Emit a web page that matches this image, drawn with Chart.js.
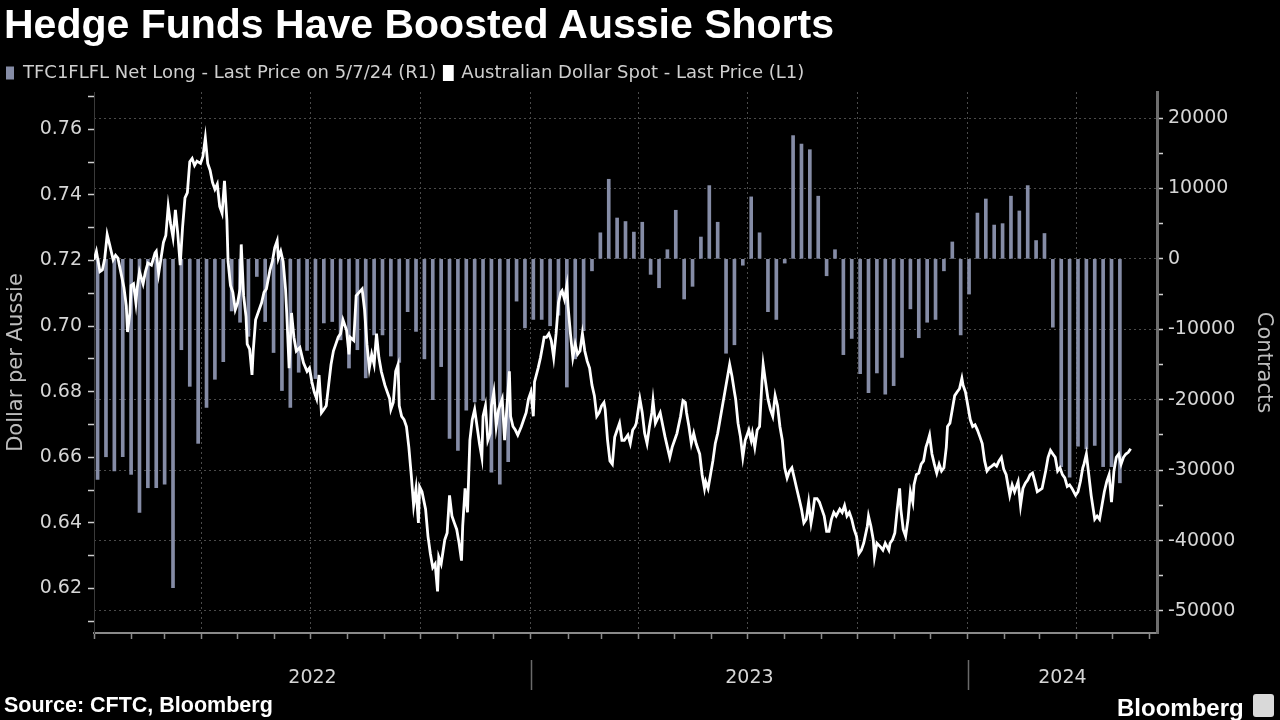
<!DOCTYPE html>
<html lang="en">
<head>
<meta charset="utf-8">
<title>Hedge Funds Have Boosted Aussie Shorts</title>
<script src="https://cdn.jsdelivr.net/npm/chart.js@4.4.1/dist/chart.umd.min.js"></script>
<style>
  html, body { margin: 0; padding: 0; background: #000; }
  .quadro { position: relative; width: 1280px; height: 720px; background: #000; overflow: hidden; }
  #grafico { position: absolute; left: 0; top: 0; }
  .titulo { position: absolute; left: 4px; top: 4px; margin: 0; font: bold 41px/41px "Liberation Sans", Arial, sans-serif; color: #fff; white-space: nowrap; }
  .fonte { position: absolute; left: 4px; top: 695px; font: bold 21.5px/21px "Liberation Sans", Arial, sans-serif; color: #fff; }
  .marca { position: absolute; left: 1117px; top: 696px; font: bold 24px/24px "Liberation Sans", Arial, sans-serif; color: #fff; }
  .marca-icone { position: absolute; left: 1253px; top: 694px; width: 21px; height: 23px; border-radius: 3px; background: #d9d9d9; }
</style>
</head>
<body>
<div class="quadro">
  <canvas id="grafico" width="1280" height="720"></canvas>
  <h1 class="titulo">Hedge Funds Have Boosted Aussie Shorts</h1>
  <div class="fonte">Source: CFTC, Bloomberg</div>
  <div class="marca">Bloomberg</div>
  <div class="marca-icone"></div>
</div>
<script>
(function () {
  "use strict";

  // Posição líquida (contratos), um relatório CFTC por semana, 4/1/2022 a 7/5/2024
  const posicaoLiquida = [
    -31300, -28100, -30100, -28100, -30600, -36000, -32500, -32500, -32000, -46700,
    -12900, -18100, -26200, -21100, -17100, -14600, -7400, -9000, -11000, -2500,
    -8900, -13300, -18700, -21100, -16100, -13000, -17000, -9100, -8900, -11500,
    -15500, -12900, -16900, -10800, -10800, -13800, -14700, -7500, -10300, -14200,
    -20000, -15300, -25500, -27200, -21500, -20300, -20100, -30300, -32000, -28800,
    -6000, -9800, -8600, -8600, -9500, -8000, -18200, -14200, -10200, -1700,
    3700, 11300, 5800, 5300, 3800, 5200, -2200, -4100, 1300, 6900,
    -5700, -3900, 3100, 10400, 5200, -13400, -12200, -900, 8800, 3700,
    -7500, -8600, -600, 17500, 16300, 15500, 8900, -2400, 1300, -13600,
    -11300, -16300, -19000, -16200, -19200, -18000, -14000, -7100, -11200, -9000,
    -8600, -1700, 2400, -10800, -5000, 6500, 8500, 4800, 5000, 8900,
    6800, 10400, 2600, 3600, -9700, -29500, -31000, -26600, -27000, -26500,
    -29500, -29500, -31800
  ];

  // Dólar australiano spot: [dias desde 1/1/2022, preço]
  const spot2022 = [
    [0, .7202], [2, .7228], [5, .7166], [7, .7171], [9, .7207], [11, .7279], [13, .7249], [16, .7202],
    [18, .7216], [20, .7207], [22, .7171], [25, .7118], [27, .7061], [28, .6982], [30, .7040], [31, .7124],
    [33, .7129], [35, .7071], [36, .7113], [38, .7166], [41, .7129], [43, .7166], [45, .7192], [48, .7186],
    [51, .7223], [52, .7228], [54, .7160], [56, .7207], [58, .7255], [60, .7276], [62, .7365], [64, .7312],
    [66, .7270], [68, .7354], [70, .7281], [72, .7186], [74, .7302], [76, .7391], [78, .7407], [80, .7501],
    [82, .7511], [84, .7490], [86, .7503], [89, .7496], [91, .7517], [93, .7574], [95, .7496], [97, .7475],
    [99, .7438], [101, .7417], [103, .7433], [105, .7365], [107, .7344], [109, .7443], [111, .7323], [112, .7197],
    [114, .7124], [116, .7103], [118, .7050], [120, .7071], [122, .7113], [123, .7249], [125, .7092], [127, .7029],
    [128, .6945], [130, .6930], [132, .6851], [133, .6924], [135, .7019], [137, .7040], [140, .7071], [142, .7103],
    [144, .7113], [147, .7171], [149, .7197], [151, .7239], [153, .7260], [154, .7207], [156, .7228], [158, .7197],
    [160, .7113], [161, .7040], [163, .6872], [165, .7040], [167, .6966], [169, .6924], [172, .6935], [174, .6904],
    [175, .6888], [178, .6862], [180, .6872], [182, .6830], [184, .6799], [186, .6778], [188, .6851], [190, .6736],
    [192, .6746], [194, .6757], [196, .6820], [198, .6883], [200, .6924], [202, .6945], [204, .6966], [206, .6977],
    [208, .7019], [211, .6987], [213, .6914], [214, .6966], [217, .6956], [219, .7092], [222, .7105], [224, .7113],
    [226, .7050], [228, .6945], [230, .6872], [232, .6914], [234, .6883], [236, .6977], [238, .6904], [240, .6862],
    [243, .6820], [245, .6799], [247, .6778], [248, .6746], [250, .6767], [252, .6862], [254, .6883], [255, .6757],
    [257, .6725], [259, .6715], [261, .6694], [263, .6631], [265, .6547], [267, .6453], [269, .6505], [271, .6400],
    [272, .6510], [274, .6495], [277, .6442], [279, .6359], [281, .6306], [283, .6264], [285, .6275], [287, .6191],
    [288, .6296], [290, .6275], [293, .6348], [295, .6369], [297, .6484], [299, .6421], [301, .6400], [303, .6380],
    [305, .6338], [307, .6285], [308, .6390], [310, .6505], [312, .6432], [314, .6652], [316, .6715], [318, .6746],
    [320, .6694], [322, .6642], [324, .6600], [325, .6725], [327, .6757], [329, .6652], [331, .6673], [332, .6757],
    [334, .6799], [336, .6694], [338, .6746], [341, .6778], [343, .6652], [345, .6757], [347, .6862], [348, .6725],
    [350, .6694], [352, .6683], [354, .6668], [357, .6694], [359, .6715], [361, .6736], [363, .6778]
  ];
  const spot2023 = [
    [365, .6799], [367, .6725], [368, .6830], [371, .6872], [373, .6904], [375, .6945], [376, .6966], [378, .6966],
    [380, .6977], [382, .6956], [384, .6904], [386, .6977], [388, .7071], [390, .7103], [391, .7108], [393, .7082],
    [395, .7124], [396, .7061], [398, .6977], [400, .6904], [402, .6945], [404, .6914], [406, .6924], [408, .6977],
    [410, .6924], [412, .6893], [414, .6872], [416, .6820], [418, .6788], [420, .6725], [422, .6736], [424, .6757],
    [426, .6767], [427, .6746], [429, .6652], [431, .6589], [433, .6579], [435, .6662], [437, .6683], [439, .6704],
    [441, .6652], [443, .6652], [446, .6668], [448, .6642], [450, .6683], [452, .6694], [453, .6704], [456, .6778],
    [458, .6736], [460, .6673], [462, .6642], [464, .6694], [466, .6736], [467, .6773], [469, .6704], [471, .6720],
    [473, .6736], [475, .6699], [477, .6663], [479, .6631], [481, .6600], [483, .6631], [485, .6652], [487, .6673],
    [490, .6725], [492, .6773], [494, .6767], [495, .6736], [497, .6694], [499, .6642], [501, .6673], [503, .6642],
    [506, .6610], [508, .6547], [510, .6505], [511, .6526], [513, .6505], [515, .6547], [517, .6589], [519, .6642],
    [521, .6673], [523, .6715], [525, .6757], [527, .6799], [529, .6841], [531, .6883], [533, .6846], [535, .6799],
    [536, .6778], [538, .6704], [540, .6663], [542, .6600], [544, .6652], [547, .6683], [549, .6652], [550, .6673],
    [552, .6631], [554, .6683], [556, .6694], [558, .6830], [559, .6883], [561, .6830], [563, .6778], [565, .6746],
    [567, .6725], [569, .6788], [571, .6757], [573, .6694], [575, .6652], [577, .6568], [579, .6537], [581, .6558],
    [583, .6568], [585, .6537], [587, .6505], [589, .6474], [591, .6442], [593, .6400], [595, .6411], [597, .6463],
    [599, .6400], [600, .6421], [602, .6474], [604, .6474], [606, .6463], [608, .6442], [610, .6421], [612, .6374],
    [614, .6374], [616, .6411], [618, .6432], [620, .6421], [623, .6442], [625, .6432], [627, .6453], [629, .6421],
    [631, .6432], [633, .6411], [635, .6380], [637, .6359], [639, .6306], [641, .6317], [643, .6338], [646, .6390],
    [647, .6421], [649, .6390], [651, .6348], [652, .6296], [654, .6338], [657, .6327], [659, .6317], [661, .6338],
    [664, .6317], [665, .6338], [667, .6348], [669, .6369], [671, .6442], [673, .6505], [674, .6442], [676, .6380],
    [678, .6359], [680, .6411], [682, .6495], [684, .6463], [685, .6516], [687, .6547], [689, .6552], [691, .6579],
    [693, .6589], [695, .6631], [696, .6642], [698, .6668], [700, .6610], [702, .6579], [704, .6552], [706, .6579],
    [708, .6558], [710, .6568], [712, .6631], [713, .6694], [715, .6704], [717, .6746], [719, .6788], [721, .6799],
    [723, .6809], [725, .6841], [726, .6820], [728, .6799]
  ];
  const spot2024 = [
    [730, .6757], [732, .6715], [734, .6694], [736, .6699], [738, .6683], [740, .6663], [742, .6642], [744, .6589],
    [746, .6558], [748, .6568], [750, .6573], [752, .6579], [754, .6573], [756, .6589], [758, .6600], [760, .6563],
    [762, .6547], [764, .6505], [765, .6484], [767, .6516], [769, .6495], [772, .6526], [774, .6453], [776, .6505],
    [778, .6521], [780, .6531], [782, .6547], [784, .6552], [786, .6526], [788, .6495], [790, .6500], [792, .6505],
    [795, .6558], [797, .6600], [799, .6621], [801, .6610], [803, .6600], [805, .6558], [807, .6568], [809, .6547],
    [811, .6537], [813, .6511], [815, .6516], [817, .6505], [820, .6484], [822, .6495], [824, .6526], [826, .6568],
    [827, .6579], [829, .6610], [831, .6547], [833, .6484], [836, .6411], [838, .6421], [840, .6411], [842, .6453],
    [844, .6495], [846, .6526], [848, .6547], [850, .6463], [852, .6558], [854, .6600], [856, .6610], [858, .6579],
    [860, .6600], [862, .6610], [864, .6615], [866, .6626]
  ];

  const anos = ["2022", "2023", "2024"];
  const inicioAnos = [0, 365, 730, 1096];
  const ticksEsquerda = [0.61, 0.62, 0.63, 0.64, 0.65, 0.66, 0.67, 0.68, 0.69, 0.70, 0.71, 0.72, 0.73, 0.74, 0.75, 0.76, 0.77];
  const ticksDireita = [-50000, -45000, -40000, -35000, -30000, -25000, -20000, -15000, -10000, -5000, 0, 5000, 10000, 15000, 20000];

  const PRIMEIRA_TERCA = 3; // 4/1/2022
  const DIA_FINAL = 888;
  const COR_BARRA = "#858ca6";
  const COR_GRADE = "#4a4a4a";
  const COR_TEXTO = "#d6d6d6";
  const FONTE = '"DejaVu Sans", sans-serif';

  function diaDoMes(ano, mes) {
    return Math.round((Date.UTC(ano, mes, 1) - Date.UTC(2022, 0, 1)) / 86400000);
  }

  const inicioMeses = [];
  const inicioTrimestres = new Set();
  for (let a = 2022; a <= 2024; a++) {
    for (let m = 0; m < 12; m++) {
      const d = diaDoMes(a, m);
      if (d > DIA_FINAL) continue;
      inicioMeses.push(d);
      if (m % 3 === 0) inicioTrimestres.add(d);
    }
  }

  const barras = posicaoLiquida.map((v, k) => ({ x: PRIMEIRA_TERCA + 7 * k, y: v }));
  const linha = spot2022.concat(spot2023, spot2024).map(([d, p]) => ({ x: d, y: p }));

  // legenda encostada na margem esquerda, como no original
  const ajusteLegenda = {
    id: "ajusteLegenda",
    afterLayout(chart) {
      if (chart.legend) chart.legend.left = -2;
    },
  };

  const rotulosAnos = {
    id: "rotulosAnos",
    afterDraw(chart) {
      const { ctx, chartArea } = chart;
      const x = chart.scales.x;
      ctx.save();
      ctx.strokeStyle = "#6a6a6a";
      ctx.lineWidth = 1.5;
      for (let i = 1; i < anos.length; i++) {
        const px = Math.round(x.getPixelForValue(inicioAnos[i])) + 0.5;
        ctx.beginPath();
        ctx.moveTo(px, chartArea.bottom + 27);
        ctx.lineTo(px, chartArea.bottom + 57);
        ctx.stroke();
      }
      ctx.font = "19px " + FONTE;
      ctx.fillStyle = COR_TEXTO;
      ctx.textAlign = "center";
      ctx.textBaseline = "middle";
      anos.forEach((ano, i) => {
        const ini = Math.max(x.getPixelForValue(inicioAnos[i]), chartArea.left);
        const fim = Math.min(x.getPixelForValue(inicioAnos[i + 1]), chartArea.right);
        ctx.fillText(ano, (ini + fim) / 2, chartArea.bottom + 45);
      });
      ctx.restore();
    },
  };

  new Chart(document.getElementById("grafico").getContext("2d"), {
    type: "line",
    data: {
      datasets: [
        {
          type: "bar",
          label: "TFC1FLFL Net Long - Last Price on 5/7/24 (R1)",
          data: barras,
          yAxisID: "y1",
          backgroundColor: COR_BARRA,
          borderWidth: 0,
          barThickness: 3,
          order: 1,
        },
        {
          type: "line",
          label: "Australian Dollar Spot - Last Price (L1)",
          data: linha,
          yAxisID: "y",
          borderColor: "#ffffff",
          backgroundColor: "#ffffff",
          borderWidth: 2.8,
          pointRadius: 0,
          tension: 0,
          fill: false,
          order: 0,
        },
      ],
    },
    options: {
      responsive: false,
      animation: false,
      layout: { padding: { top: 56, left: 0, right: 0, bottom: 0 } },
      plugins: {
        legend: {
          position: "top",
          align: "start",
          labels: {
            color: "#cfcfcf",
            font: { family: FONTE, size: 18 },
            boxWidth: 8,
            boxHeight: 13,
            padding: 8,
            sort: (a, b) => a.datasetIndex - b.datasetIndex,
          },
        },
        tooltip: { enabled: false },
      },
      scales: {
        x: {
          type: "linear",
          min: 0,
          max: DIA_FINAL,
          offset: false,
          afterBuildTicks: (scale) => {
            scale.ticks = inicioMeses.map((v) => ({ value: v }));
          },
          afterFit: (scale) => {
            scale.height = 87;
          },
          ticks: { callback: () => "", padding: 0 },
          grid: {
            offset: false,
            color: (c) => (c.tick && inicioTrimestres.has(c.tick.value) ? COR_GRADE : "transparent"),
            lineWidth: 1,
            tickColor: "#8a8a8a",
            tickWidth: 1.5,
            tickLength: 6,
          },
          border: { display: true, color: "#8a8a8a", width: 2, dash: [2, 3] },
        },
        y: {
          position: "left",
          min: 0.60643,
          max: 0.77137,
          afterBuildTicks: (scale) => {
            scale.ticks = ticksEsquerda.map((v) => ({ value: v }));
          },
          afterFit: (scale) => {
            scale.width = 94;
          },
          ticks: {
            color: COR_TEXTO,
            font: { family: FONTE, size: 19 },
            padding: 6,
            callback: (v) => (Math.round(v * 100) % 2 === 0 ? v.toFixed(2) : ""),
          },
          grid: {
            drawOnChartArea: false,
            tickColor: "#cfcfcf",
            tickWidth: 1.5,
            tickLength: 6,
          },
          border: { display: true, color: "#3a3a3a", width: 1 },
          title: {
            display: true,
            text: "Dollar per Aussie",
            color: "#bdbdbd",
            font: { family: FONTE, size: 21 },
            padding: { top: 4, bottom: 0 },
          },
        },
        y1: {
          position: "right",
          min: -53124,
          max: 23692,
          afterBuildTicks: (scale) => {
            scale.ticks = ticksDireita.map((v) => ({ value: v }));
          },
          afterFit: (scale) => {
            scale.width = 123;
          },
          ticks: {
            color: COR_TEXTO,
            font: { family: FONTE, size: 19 },
            padding: 5,
            callback: (v) => (v % 10000 === 0 ? String(v) : ""),
          },
          grid: {
            color: (c) => (c.tick && c.tick.value % 10000 === 0 ? COR_GRADE : "transparent"),
            lineWidth: 1,
            tickColor: "#d0d0d0",
            tickWidth: 1.5,
            tickLength: 6,
          },
          border: { display: true, color: "#6e6e6e", width: 3, dash: [2, 3] },
          title: {
            display: true,
            text: "Contracts",
            color: "#bdbdbd",
            font: { family: FONTE, size: 21 },
            padding: { top: 4, bottom: 0 },
          },
        },
      },
    },
    plugins: [ajusteLegenda, rotulosAnos],
  });
})();
</script>
</body>
</html>
